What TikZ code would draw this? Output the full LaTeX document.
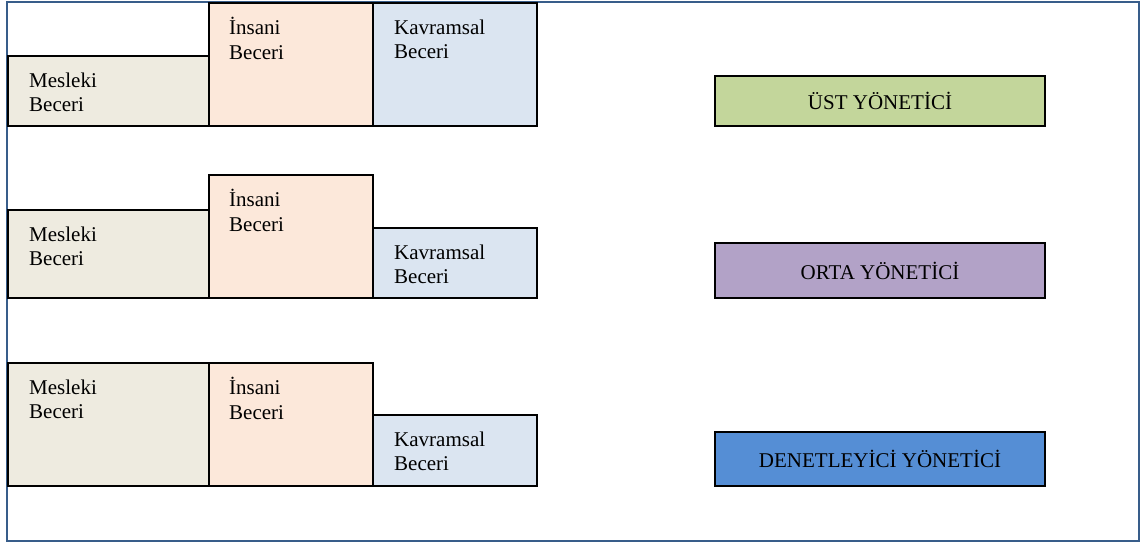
\documentclass[tikz,border=0pt]{standalone}
\usepackage{fontspec}
\setmainfont{Liberation Serif}
\definecolor{mesleki}{HTML}{EEEBE0}
\definecolor{insani}{HTML}{FCE8DA}
\definecolor{kavram}{HTML}{DBE5F1}
\definecolor{ust}{HTML}{C3D69B}
\definecolor{orta}{HTML}{B2A2C7}
\definecolor{denet}{HTML}{558ED5}
\definecolor{cerceve}{HTML}{385D8A}
\begin{document}
\begin{tikzpicture}[x=1pt,y=-1pt, line join=miter, font=\fontsize{21}{24.5}\selectfont]
	\tikzset{kutu/.style={draw=black, line width=1.8pt},
		yazi/.style={anchor=north west, inner sep=0pt, align=left},
		yonetici/.style={kutu, minimum width=330pt, inner sep=0pt}}
	\useasboundingbox (0,0) rectangle (1148,544);
	\draw[cerceve, line width=1.6pt] (7,2) rectangle (1139,541);
	% satirlar: ust kenarlar ve alt kenar
	\foreach \r/\mt/\it/\kt/\bt in {1/56/3/3/126, 2/210/175/228/298, 3/363/363/415/486}{
		\draw[kutu, fill=mesleki] (8,\mt) rectangle (209,\bt);
		\draw[kutu, fill=insani] (209,\it) rectangle (373,\bt);
		\draw[kutu, fill=kavram] (373,\kt) rectangle (537,\bt);
		\node[yazi] (mesleki\r) at (29,\mt+14) {\strut Mesleki\\Beceri};
		\node[yazi] (insani\r) at (229,\it+14) {\strut İnsani\\Beceri};
		\node[yazi] (kavram\r) at (394,\kt+14) {\strut Kavramsal\\Beceri};
	}
	\foreach \r/\c/\y/\h/\t in {1/ust/101/50/ÜST YÖNETİCİ, 2/orta/270.5/55/ORTA YÖNETİCİ, 3/denet/459/54/DENETLEYİCİ YÖNETİCİ}
		\node[yonetici, fill=\c, minimum height=\h pt] (yon\r) at (880,\y) {\t};
\end{tikzpicture}
\end{document}
